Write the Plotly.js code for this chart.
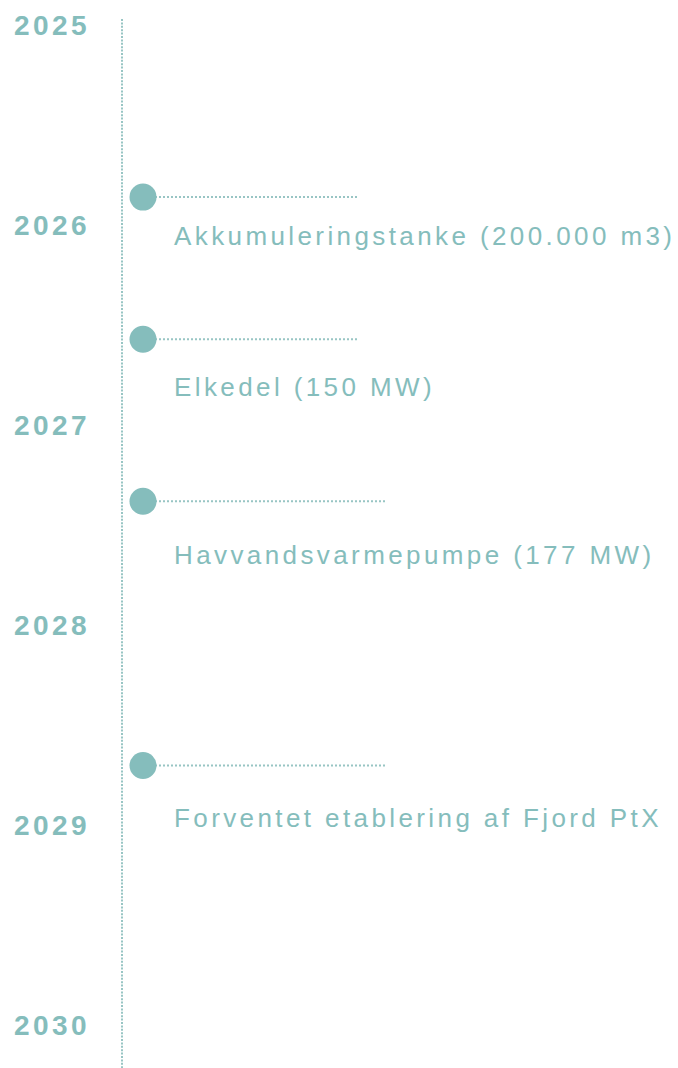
<!DOCTYPE html>
<html>
<head>
<meta charset="utf-8">
<script src="https://cdn.plot.ly/plotly-3.0.1.min.js"></script>
<style>
  html, body { margin: 0; padding: 0; background: #ffffff; }
  #chart { width: 678px; height: 1068px; }
  .annotation-text { letter-spacing: 3.4px; }
</style>
</head>
<body>
<div id="chart"></div>
<script>
// ---- data ----
const years = [2025, 2026, 2027, 2028, 2029, 2030];
const eventTimes = [2025.86, 2026.57, 2027.38, 2028.70];
const eventLabels = [
  "Akkumuleringstanke (200.000 m3)",
  "Elkedel (150 MW)",
  "Havvandsvarmepumpe (177 MW)",
  "Forventet etablering af Fjord PtX"
];

// ---- layout / style settings (not data) ----
const teal = "#85bdbc";
const dotTeal = "#98c5c4";
const axisX = 122;          // timeline spine
const markerX = 143;
const labelX = 172;
const yearX = 12;
const connectorEnds = [357, 357, 385, 385];
const labelOffsets = [39, 48, 54, 53];   // px below marker
const yTop = 2024.875, yBottom = 2030.212;

const traces = [];

// timeline spine
traces.push({
  type: "scatter", mode: "lines",
  x: [axisX, axisX], y: [2024.97, yBottom + 0.1],
  line: { color: dotTeal, width: 2, dash: "2px,1.4px" },
  hoverinfo: "skip", showlegend: false
});

// connectors
eventTimes.forEach((t, i) => {
  traces.push({
    type: "scatter", mode: "lines",
    x: [markerX, connectorEnds[i]], y: [t, t],
    line: { color: dotTeal, width: 2, dash: "2px,2px" },
    hoverinfo: "skip", showlegend: false
  });
});

// markers
traces.push({
  type: "scatter", mode: "markers",
  x: eventTimes.map(() => markerX), y: eventTimes,
  marker: { size: 27, color: teal, line: { width: 0 } },
  hoverinfo: "skip", showlegend: false
});

const annotations = [];
years.forEach(yr => {
  annotations.push({
    x: yearX, y: yr, xref: "x", yref: "y",
    text: String(yr), showarrow: false,
    xanchor: "left", yanchor: "middle",
    font: { family: "Liberation Sans, Arial, sans-serif", size: 28, color: teal, weight: "bold" }
  });
});
eventLabels.forEach((lab, i) => {
  annotations.push({
    x: labelX, y: eventTimes[i], xref: "x", yref: "y",
    text: lab, showarrow: false,
    xanchor: "left", yanchor: "middle",
    yshift: -labelOffsets[i],
    font: { family: "Liberation Sans, Arial, sans-serif", size: 26, color: teal }
  });
});

const layout = {
  width: 678, height: 1068,
  margin: { l: 0, r: 0, t: 0, b: 0 },
  paper_bgcolor: "#ffffff", plot_bgcolor: "#ffffff",
  xaxis: { range: [0, 678], visible: false, fixedrange: true },
  yaxis: { range: [yBottom, yTop], visible: false, fixedrange: true },
  annotations: annotations,
  showlegend: false
};

Plotly.newPlot("chart", traces, layout, { displayModeBar: false, staticPlot: true });
</script>
</body>
</html>
